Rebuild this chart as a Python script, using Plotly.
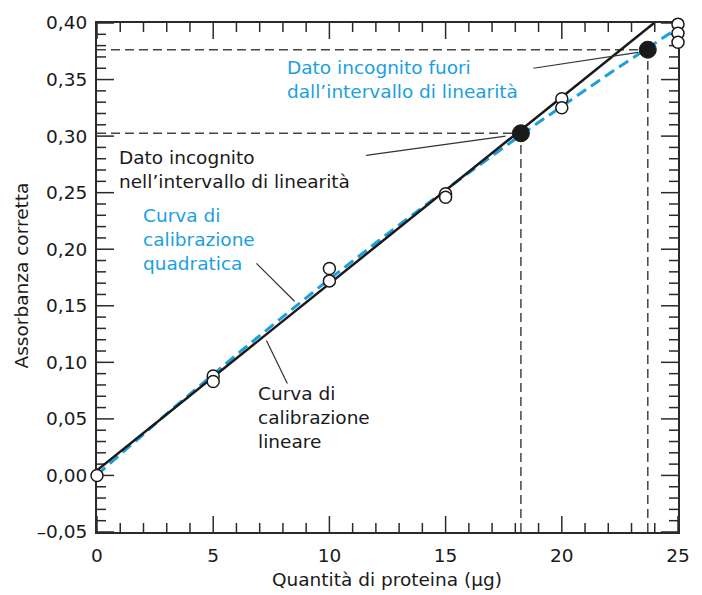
import numpy as np
import plotly.graph_objects as go

# ---- data ----
std_x = [0, 5, 5, 10, 10, 15, 15, 20, 20, 25, 25, 25]
std_y = [0.000, 0.088, 0.083, 0.183, 0.172, 0.249, 0.246, 0.333, 0.325, 0.399, 0.391, 0.383]

unk_x = [18.24, 23.70]
unk_y = [0.3025, 0.3764]

# linear fit  y = m*x + q
lin_m, lin_q = 0.0165, 0.0045
# quadratic fit y = a*x^2 + b*x + c
quad_a, quad_b, quad_c = -0.0001, 0.0183, 0.0005

x_ticks = [0, 5, 10, 15, 20, 25]
x_ticktext = ["0", "5", "10", "15", "20", "25"]
y_ticks = [-0.05, 0.0, 0.05, 0.10, 0.15, 0.20, 0.25, 0.30, 0.35, 0.40]
y_ticktext = ["\u20130,05", "0,00", "0,05", "0,10", "0,15", "0,20", "0,25", "0,30", "0,35", "0,40"]

X_RANGE = [0, 25]
Y_RANGE = [-0.05, 0.40]
X_MINOR = 1
Y_MINOR = 0.01

BLUE = "#1a9fdf"
INK = "#1a1a1a"
AXC = "#2a2a2a"
FONT = "DejaVu Sans"
FS = 18.5
MAJ_LEN, MIN_LEN = 16, 9

# curves
lin_x = [0.0, (Y_RANGE[1] - lin_q) / lin_m]
lin_y = [lin_m * v + lin_q for v in lin_x]
quad_x = np.linspace(0, 24.7, 100)
quad_y = quad_a * quad_x**2 + quad_b * quad_x + quad_c

fig = go.Figure()
fig.add_trace(go.Scatter(x=quad_x, y=quad_y, mode="lines",
                         line=dict(color=BLUE, width=3, dash="11px,6px"),
                         cliponaxis=False, showlegend=False, hoverinfo="skip"))
fig.add_trace(go.Scatter(x=lin_x, y=lin_y, mode="lines",
                         line=dict(color=INK, width=2.5),
                         cliponaxis=False, showlegend=False, hoverinfo="skip"))
fig.add_trace(go.Scatter(x=std_x, y=std_y, mode="markers",
                         marker=dict(symbol="circle", size=12, color="white",
                                     line=dict(color=INK, width=1.5)),
                         cliponaxis=False, showlegend=False))
fig.add_trace(go.Scatter(x=unk_x, y=unk_y, mode="markers",
                         marker=dict(symbol="circle", size=17, color=INK,
                                     line=dict(color=INK, width=1)),
                         cliponaxis=False, showlegend=False))

# dashed guide lines
for ux, uy in zip(unk_x, unk_y):
    fig.add_shape(type="line", x0=X_RANGE[0], x1=ux, y0=uy, y1=uy, xref="x", yref="y",
                  line=dict(color="#444444", width=1.5, dash="9px,5px"), layer="below")
    fig.add_shape(type="line", x0=ux, x1=ux, y0=Y_RANGE[0], y1=uy, xref="x", yref="y",
                  line=dict(color="#444444", width=1.5, dash="9px,5px"), layer="below")

# inside tick marks on all four sides (major + minor), pixel-length shapes
tick_line = dict(color=AXC, width=1.5)
x_minor_vals = np.arange(X_RANGE[0], X_RANGE[1] + 1e-9, X_MINOR)
y_minor_vals = np.round(np.arange(Y_RANGE[0], Y_RANGE[1] + 1e-9, Y_MINOR), 4)
for v in x_minor_vals:
    L = MAJ_LEN if any(abs(v - t) < 1e-9 for t in x_ticks) else MIN_LEN
    for anchor, sgn in ((0, 1), (1, -1)):
        fig.add_shape(type="line", xref="x", yref="paper", ysizemode="pixel",
                      yanchor=anchor, x0=v, x1=v, y0=0, y1=sgn * L, line=tick_line,
                      layer="below")
for v in y_minor_vals:
    L = MAJ_LEN + 1 if any(abs(v - t) < 1e-9 for t in y_ticks) else MIN_LEN
    for anchor, sgn in ((0, 1), (1, -1)):
        fig.add_shape(type="line", xref="paper", yref="y", xsizemode="pixel",
                      xanchor=anchor, y0=v, y1=v, x0=0, x1=sgn * L, line=tick_line,
                      layer="below")

# leader lines (data coords)
leaders = [
    ((18.78, 0.360), (23.28, 0.374)),
    ((11.58, 0.283), (17.58, 0.300)),
    ((6.86, 0.1875), (8.5, 0.154)),
    ((7.29, 0.1194), (8.19, 0.0813)),
]
for (a, b) in leaders:
    fig.add_shape(type="line", x0=a[0], y0=a[1], x1=b[0], y1=b[1], xref="x", yref="y",
                  line=dict(color="#333333", width=1.2))

labels = [
    (8.15, 0.371, "Dato incognito fuori<br>dall\u2019intervallo di linearit\u00e0", BLUE),
    (0.90, 0.291, "Dato incognito<br>nell\u2019intervallo di linearit\u00e0", INK),
    (1.93, 0.240, "Curva di<br>calibrazione<br>quadratica", BLUE),
    (6.90, 0.083, "Curva di<br>calibrazione<br>lineare", INK),
]
for x, y, t, c in labels:
    fig.add_annotation(x=x, y=y, xref="x", yref="y", text=t, showarrow=False,
                       xanchor="left", yanchor="top", align="left",
                       font=dict(family=FONT, size=FS, color=c), borderpad=0)

# axis titles
fig.add_annotation(x=0.499, y=-0.094, xref="paper", yref="paper",
                   text="Quantit\u00e0 di proteina (\u03bcg)", showarrow=False,
                   xanchor="center", yanchor="middle",
                   font=dict(family=FONT, size=FS, color=INK))
fig.add_annotation(x=-0.130, y=0.505, xref="paper", yref="paper",
                   text="Assorbanza corretta", showarrow=False, textangle=-90,
                   xanchor="center", yanchor="middle",
                   font=dict(family=FONT, size=FS, color=INK))

base = dict(showgrid=False, zeroline=False, showline=True, linecolor=AXC, linewidth=2,
            mirror=True, ticks="", layer="below traces",
            tickfont=dict(family=FONT, size=FS, color=INK))

fig.update_layout(
    xaxis=dict(range=X_RANGE, tickmode="array", tickvals=x_ticks, ticktext=x_ticktext,
               ticklabelstandoff=6, **base),
    yaxis=dict(range=Y_RANGE, tickmode="array", tickvals=y_ticks, ticktext=y_ticktext,
               ticklabelstandoff=4, **base),
)

fig.update_layout(width=702, height=595,
                  margin=dict(l=97, r=22, t=23, b=63),
                  plot_bgcolor="white", paper_bgcolor="white",
                  showlegend=False)

fig.write_html("out.html")
